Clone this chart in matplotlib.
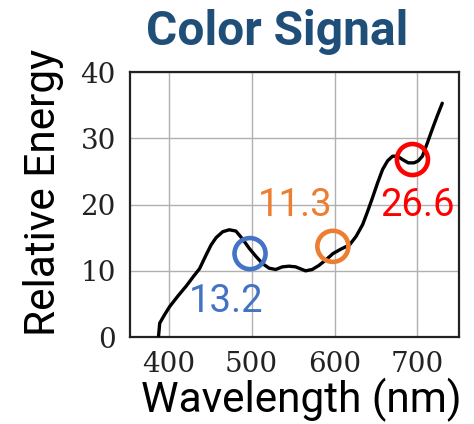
import matplotlib.pyplot as plt

# traced spectrum (nm, relative energy)
wavelength = [387.5, 389, 395, 401, 411, 421, 430, 437, 445, 451, 457, 465, 473, 481,
              489, 497, 505, 513, 521, 529, 537, 545, 553, 559, 565, 573, 581, 590,
              598, 608, 618, 626, 634, 640, 646, 652, 658, 664, 670, 676, 682, 689,
              696, 701, 706, 712, 718, 724, 730]
energy = [0.0, 2.1, 3.4, 4.6, 6.2, 7.7, 9.2, 10.3, 12.4, 13.9, 15.0, 15.9, 16.2, 16.0,
          14.8, 13.4, 12.2, 11.1, 10.4, 10.2, 10.6, 10.7, 10.6, 10.3, 10.0, 10.2, 10.8, 11.7,
          12.6, 13.3, 13.9, 15.2, 17.0, 19.0, 21.1, 23.3, 25.3, 26.6, 27.3, 27.3, 26.8, 26.3,
          26.3, 26.6, 27.3, 29.3, 31.4, 33.4, 35.3]

marker_x = [498, 598, 694]
marker_y = [12.6, 13.7, 26.8]
marker_labels = ["13.2", "11.3", "26.6"]
label_x = [469, 553, 700]
label_y = [5.4, 19.8, 19.8]
marker_colors = ["#4472c4", "#ed7d31", "#ff0000"]

xticks = [400, 500, 600, 700]
yticks = [0, 10, 20, 30, 40]

fig = plt.figure(figsize=(4.74, 4.24), dpi=100)
ax = fig.add_axes([0.274, 0.205, 0.694, 0.625])

ax.plot(wavelength, energy, color="black", linewidth=2.4, solid_capstyle="round", zorder=3)

for x, y, c, lab, lx, ly in zip(marker_x, marker_y, marker_colors, marker_labels, label_x, label_y):
    ax.scatter([x], [y], s=500, facecolors="none", edgecolors=c, linewidths=3.3, zorder=4)
    ax.text(lx, ly, lab, color=c, fontsize=27.5, family="Roboto", ha="center", va="center", zorder=5)

ax.set_xlim(353, 750)
ax.set_ylim(0, 40)
ax.set_xticks(xticks)
ax.set_yticks(yticks)
ax.grid(True, color="#b0b0b0", linewidth=1.0)
ax.set_axisbelow(True)
ax.tick_params(length=0, pad=10, labelsize=20, labelcolor="#222222")
for lab in ax.get_xticklabels() + ax.get_yticklabels():
    lab.set_family("DejaVu Serif")
for sp in ax.spines.values():
    sp.set_linewidth(1.6)
    sp.set_color("#222222")

fig.text(0.585, 0.925, "Color Signal", ha="center", va="center", fontsize=34.5,
         fontweight="bold", family="Roboto", color="#1f4e79")
fig.text(0.092, 0.547, "Relative Energy", ha="center", va="center", rotation=90,
         fontsize=30.5, family="Roboto", color="black")
fig.text(0.635, 0.057, "Wavelength (nm)", ha="center", va="center",
         fontsize=30.5, family="Roboto", color="black")

fig.savefig("out.png", dpi=100)
